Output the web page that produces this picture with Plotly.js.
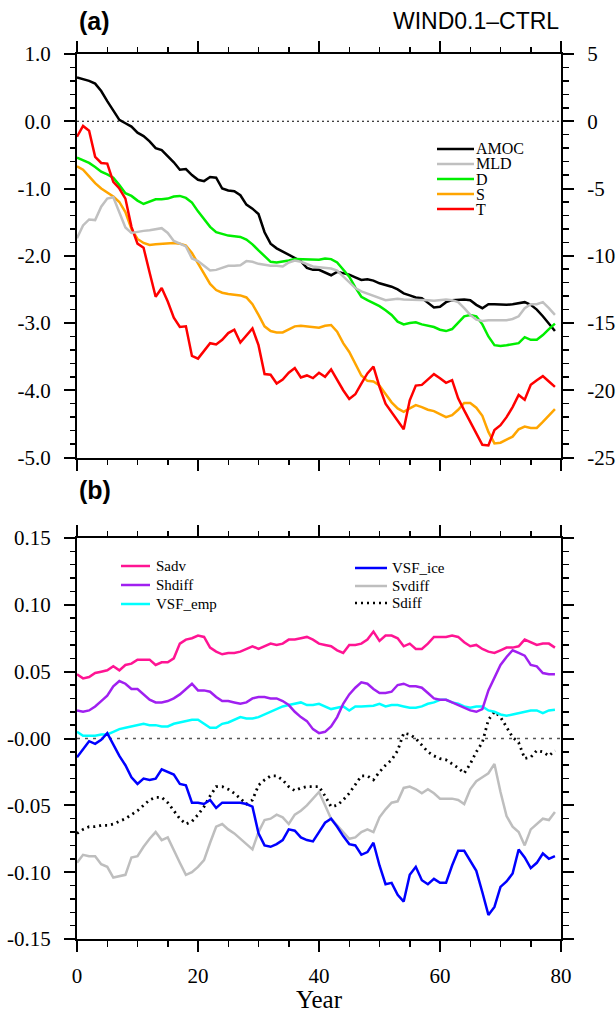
<!DOCTYPE html>
<html>
<head>
<meta charset="utf-8">
<script src="https://cdn.plot.ly/plotly-3.0.1.min.js"></script>
<style>html,body{margin:0;padding:0;background:#fff;}#chart{width:616px;height:1013px;}</style>
</head>
<body>
<div id="chart"></div>
<script>
// ---------- data ----------
const years = Array.from({length: 80}, (_, i) => i);

// panel (a), left axis
const AMOC = [0.65,0.63,0.60,0.56,0.45,0.30,0.15,0.02,-0.03,-0.08,-0.17,-0.22,-0.30,-0.40,-0.43,-0.52,-0.61,-0.72,-0.71,-0.80,
  -0.87,-0.89,-0.83,-0.84,-1.00,-1.03,-1.04,-1.10,-1.24,-1.30,-1.38,-1.65,-1.82,-1.89,-1.94,-1.99,-2.03,-2.08,-2.18,-2.21,
  -2.21,-2.25,-2.29,-2.24,-2.26,-2.28,-2.32,-2.36,-2.35,-2.37,-2.41,-2.43,-2.46,-2.50,-2.56,-2.59,-2.62,-2.63,-2.70,-2.77,
  -2.76,-2.69,-2.66,-2.65,-2.65,-2.66,-2.73,-2.78,-2.72,-2.72,-2.73,-2.73,-2.72,-2.70,-2.69,-2.73,-2.80,-2.90,-3.01,-3.12];
const D = [-0.54,-0.58,-0.62,-0.68,-0.75,-0.79,-0.84,-0.95,-1.07,-1.11,-1.18,-1.23,-1.20,-1.16,-1.16,-1.15,-1.12,-1.11,-1.14,-1.21,
  -1.34,-1.45,-1.57,-1.65,-1.68,-1.70,-1.71,-1.72,-1.76,-1.83,-1.92,-2.01,-2.09,-2.10,-2.09,-2.07,-2.05,-2.05,-2.05,-2.06,
  -2.06,-2.04,-2.05,-2.10,-2.20,-2.31,-2.47,-2.61,-2.66,-2.70,-2.75,-2.81,-2.88,-2.98,-3.02,-3.00,-2.99,-3.02,-3.04,-3.06,
  -3.10,-3.12,-3.09,-3.00,-2.90,-2.88,-2.90,-3.02,-3.20,-3.33,-3.34,-3.33,-3.31,-3.30,-3.21,-3.25,-3.25,-3.18,-3.09,-3.01];
const S = [-0.67,-0.72,-0.82,-0.92,-1.00,-1.06,-1.12,-1.20,-1.35,-1.60,-1.75,-1.81,-1.84,-1.83,-1.82,-1.81,-1.81,-1.82,-1.85,-1.96,
  -2.12,-2.26,-2.42,-2.51,-2.55,-2.57,-2.58,-2.59,-2.62,-2.72,-2.88,-3.05,-3.12,-3.14,-3.14,-3.09,-3.05,-3.04,-3.05,-3.06,
  -3.07,-3.04,-3.03,-3.13,-3.30,-3.43,-3.60,-3.78,-3.86,-3.87,-3.93,-4.05,-4.18,-4.27,-4.32,-4.27,-4.22,-4.25,-4.29,-4.31,
  -4.36,-4.40,-4.37,-4.29,-4.19,-4.19,-4.26,-4.38,-4.62,-4.79,-4.78,-4.74,-4.69,-4.58,-4.54,-4.56,-4.56,-4.47,-4.38,-4.28];
const T = [-0.23,-0.07,-0.14,-0.53,-0.62,-0.63,-0.90,-1.00,-1.15,-1.57,-1.82,-1.88,-2.25,-2.61,-2.48,-2.68,-2.92,-3.06,-3.05,-3.49,
  -3.53,-3.42,-3.30,-3.32,-3.25,-3.15,-3.10,-3.29,-3.18,-3.08,-3.33,-3.76,-3.77,-3.90,-3.84,-3.74,-3.67,-3.81,-3.78,-3.82,
  -3.74,-3.80,-3.69,-3.85,-4.00,-4.13,-4.06,-3.90,-3.75,-3.65,-3.95,-4.20,-4.33,-4.45,-4.58,-4.15,-3.93,-3.92,-3.84,-3.76,
  -3.82,-3.89,-3.85,-4.12,-4.30,-4.47,-4.65,-4.81,-4.82,-4.59,-4.52,-4.40,-4.25,-4.07,-4.14,-3.92,-3.85,-3.79,-3.87,-3.95];
// panel (a), right axis
const MLD = [-8.70,-7.75,-7.30,-7.35,-6.35,-5.75,-5.65,-6.75,-7.90,-8.30,-8.20,-8.15,-8.10,-8.00,-7.95,-8.30,-8.90,-9.10,-9.30,-10.20,
  -10.40,-10.75,-11.10,-11.05,-10.90,-10.75,-10.75,-10.70,-10.40,-10.45,-10.60,-10.70,-10.75,-10.75,-10.80,-10.50,-10.35,-10.45,-10.65,-10.80,
  -10.85,-10.90,-10.95,-11.10,-11.55,-12.00,-12.40,-12.65,-12.80,-12.95,-13.10,-13.30,-13.25,-13.20,-13.25,-13.25,-13.25,-13.25,-13.30,-13.35,
  -13.30,-13.25,-13.30,-13.45,-13.90,-14.40,-14.75,-14.85,-14.80,-14.80,-14.80,-14.80,-14.70,-14.50,-13.90,-13.60,-13.60,-13.45,-13.90,-14.40];

// panel (b)
const Sadv = [0.048,0.045,0.046,0.049,0.050,0.051,0.054,0.051,0.055,0.056,0.059,0.059,0.059,0.055,0.057,0.057,0.060,0.071,0.074,0.075,
  0.077,0.076,0.068,0.065,0.063,0.064,0.064,0.065,0.067,0.069,0.067,0.069,0.071,0.070,0.071,0.074,0.074,0.075,0.076,0.074,
  0.071,0.070,0.069,0.066,0.064,0.070,0.070,0.071,0.074,0.080,0.073,0.077,0.077,0.075,0.069,0.071,0.067,0.067,0.071,0.076,
  0.076,0.076,0.077,0.076,0.072,0.069,0.070,0.067,0.065,0.064,0.066,0.068,0.068,0.069,0.074,0.072,0.070,0.071,0.071,0.068];
const Shdiff = [0.021,0.020,0.021,0.024,0.028,0.032,0.039,0.043,0.041,0.037,0.037,0.033,0.029,0.027,0.027,0.028,0.030,0.033,0.037,0.041,
  0.036,0.036,0.035,0.031,0.028,0.028,0.027,0.026,0.027,0.030,0.031,0.031,0.030,0.030,0.028,0.025,0.020,0.016,0.013,0.007,
  0.004,0.005,0.009,0.016,0.026,0.033,0.038,0.042,0.041,0.037,0.034,0.034,0.035,0.040,0.041,0.039,0.039,0.038,0.034,0.030,
  0.029,0.029,0.027,0.025,0.023,0.021,0.020,0.022,0.036,0.046,0.055,0.061,0.066,0.064,0.062,0.055,0.054,0.049,0.048,0.048];
const VSF_emp = [0.005,0.002,0.002,0.002,0.003,0.003,0.005,0.007,0.008,0.009,0.010,0.011,0.010,0.010,0.009,0.009,0.011,0.012,0.013,0.014,
  0.014,0.011,0.008,0.008,0.011,0.012,0.014,0.016,0.015,0.015,0.016,0.018,0.020,0.022,0.024,0.025,0.026,0.027,0.025,0.025,
  0.026,0.024,0.022,0.023,0.024,0.021,0.024,0.024,0.024,0.0245,0.026,0.024,0.025,0.025,0.024,0.023,0.023,0.024,0.026,0.027,
  0.029,0.029,0.027,0.026,0.024,0.023,0.024,0.024,0.021,0.020,0.018,0.017,0.018,0.019,0.020,0.021,0.021,0.019,0.021,0.0215];
const VSF_ice = [-0.014,-0.008,-0.002,-0.004,-0.001,0.004,-0.005,-0.013,-0.020,-0.029,-0.034,-0.030,-0.031,-0.030,-0.023,-0.025,-0.027,-0.034,-0.035,-0.048,
  -0.048,-0.049,-0.046,-0.052,-0.048,-0.048,-0.048,-0.048,-0.049,-0.051,-0.071,-0.080,-0.081,-0.079,-0.076,-0.068,-0.069,-0.074,-0.076,-0.077,
  -0.070,-0.063,-0.060,-0.066,-0.073,-0.079,-0.080,-0.087,-0.085,-0.078,-0.095,-0.109,-0.108,-0.117,-0.122,-0.102,-0.096,-0.106,-0.109,-0.105,
  -0.108,-0.108,-0.095,-0.084,-0.084,-0.091,-0.099,-0.115,-0.132,-0.126,-0.111,-0.107,-0.101,-0.083,-0.089,-0.097,-0.093,-0.086,-0.090,-0.088];
const Svdiff = [-0.093,-0.087,-0.088,-0.088,-0.094,-0.096,-0.104,-0.103,-0.102,-0.089,-0.088,-0.081,-0.075,-0.070,-0.076,-0.074,-0.084,-0.093,-0.102,-0.100,
  -0.096,-0.091,-0.078,-0.066,-0.064,-0.068,-0.071,-0.075,-0.079,-0.083,-0.070,-0.061,-0.060,-0.057,-0.059,-0.064,-0.057,-0.054,-0.050,-0.045,
  -0.040,-0.050,-0.060,-0.065,-0.070,-0.075,-0.074,-0.070,-0.068,-0.070,-0.059,-0.053,-0.048,-0.047,-0.037,-0.036,-0.038,-0.041,-0.038,-0.041,
  -0.045,-0.045,-0.045,-0.046,-0.049,-0.038,-0.032,-0.029,-0.026,-0.019,-0.040,-0.058,-0.066,-0.070,-0.080,-0.068,-0.064,-0.060,-0.061,-0.055];
const Sdiff = [-0.071,-0.068,-0.066,-0.066,-0.065,-0.065,-0.064,-0.062,-0.060,-0.057,-0.054,-0.050,-0.046,-0.044,-0.044,-0.048,-0.054,-0.060,-0.064,-0.062,
  -0.057,-0.051,-0.043,-0.036,-0.036,-0.038,-0.041,-0.045,-0.049,-0.046,-0.035,-0.031,-0.028,-0.028,-0.031,-0.036,-0.039,-0.037,-0.036,-0.036,
  -0.036,-0.043,-0.051,-0.050,-0.046,-0.041,-0.034,-0.028,-0.028,-0.031,-0.025,-0.020,-0.016,-0.009,0.004,0.003,0.000,-0.005,-0.010,-0.013,
  -0.015,-0.016,-0.019,-0.022,-0.026,-0.019,-0.010,-0.003,0.014,0.020,0.016,0.008,0.001,-0.003,-0.015,-0.014,-0.009,-0.010,-0.013,-0.009];

// tick labels
const xTickVals = [0, 20, 40, 60, 80];
const xTickText = ['0', '20', '40', '60', '80'];
const yaTickVals = [1, 0, -1, -2, -3, -4, -5];
const yaTickText = ['1.0', '0.0', '-1.0', '-2.0', '-3.0', '-4.0', '-5.0'];
const ya2TickVals = [5, 0, -5, -10, -15, -20, -25];
const ya2TickText = ['5', '0', '-5', '-10', '-15', '-20', '-25'];
const ybTickVals = [0.15, 0.10, 0.05, 0, -0.05, -0.10, -0.15];
const ybTickText = ['0.15', '0.10', '0.05', '-0.00', '-0.05', '-0.10', '-0.15'];

// ---------- styling ----------
const serif = '"Liberation Serif", "Times New Roman", Times, serif';
const sans = 'Arial, Helvetica, sans-serif';

function tr(y, name, color, xa, ya, dash, width) {
  return {x: years, y: y, name: name, type: 'scatter', mode: 'lines', xaxis: xa, yaxis: ya,
    line: {color: color, width: width || 2.5, dash: dash || 'solid', shape: 'linear'}, showlegend: false, hoverinfo: 'skip'};
}

const traces = [
  tr(MLD, 'MLD', '#c0c0c0', 'x', 'y2'),
  tr(AMOC, 'AMOC', '#000000', 'x', 'y'),
  tr(D, 'D', '#00ee00', 'x', 'y'),
  tr(S, 'S', '#ffa500', 'x', 'y'),
  tr(T, 'T', '#ff0000', 'x', 'y'),
  tr(Svdiff, 'Svdiff', '#bebebe', 'x2', 'y3'),
  tr(Sdiff, 'Sdiff', '#000000', 'x2', 'y3', '2px,4px', 2.8),
  tr(VSF_emp, 'VSF_emp', '#00ffff', 'x2', 'y3'),
  tr(Shdiff, 'Shdiff', '#a020f0', 'x2', 'y3'),
  tr(Sadv, 'Sadv', '#ff1493', 'x2', 'y3'),
  tr(VSF_ice, 'VSF_ice', '#0000ff', 'x2', 'y3')
];

function axisBase(extra) {
  const base = {
    showline: true, linewidth: 2, linecolor: '#000', showgrid: false, zeroline: false,
    ticks: 'outside', ticklen: 11, tickwidth: 2, tickcolor: '#000',
    tickfont: {family: serif, size: 21, color: '#000'}
  };
  return Object.assign(base, extra);
}
function minorTicks(dt) {
  return {dtick: dt, tick0: 0, ticklen: 5.5, tickwidth: 1.5, ticks: 'outside', tickcolor: '#000', showgrid: false};
}

const domA = [1 - 457.5 / 1013, 1 - 54 / 1013];
const domB = [1 - 939 / 1013, 1 - 538 / 1013];

const layout = {
  width: 616, height: 1013,
  margin: {l: 77, r: 55, t: 0, b: 0},
  font: {family: serif, size: 21, color: '#000'},
  showlegend: false,
  xaxis: axisBase({
    domain: [0, 1], anchor: 'y', range: [0, 80], tickmode: 'array', tickvals: xTickVals, ticktext: xTickText,
    showticklabels: false, mirror: 'ticks', minor: minorTicks(5)
  }),
  yaxis: axisBase({
    domain: domA, anchor: 'x', range: [-5, 1], tickmode: 'array', tickvals: yaTickVals, ticktext: yaTickText,
    ticklabelstandoff: 9, minor: minorTicks(0.2)
  }),
  yaxis2: axisBase({
    overlaying: 'y', side: 'right', anchor: 'x', range: [-25, 5], tickmode: 'array', tickvals: ya2TickVals, ticktext: ya2TickText,
    ticklabelstandoff: 9, minor: minorTicks(1)
  }),
  xaxis2: axisBase({
    domain: [0, 1], anchor: 'y3', range: [0, 80], tickmode: 'array', tickvals: xTickVals, ticktext: xTickText,
    mirror: 'ticks', ticklabelstandoff: 6,
    title: {text: 'Year', font: {family: serif, size: 25, color: '#000'}, standoff: 4},
    minor: minorTicks(5)
  }),
  yaxis3: axisBase({
    domain: domB, anchor: 'x2', range: [-0.15, 0.15], tickmode: 'array', tickvals: ybTickVals, ticktext: ybTickText,
    mirror: 'ticks', ticklabelstandoff: 9, minor: minorTicks(0.01)
  }),
  shapes: [],
  annotations: []
};

// zero reference lines
layout.shapes.push({type: 'line', xref: 'x', yref: 'y', x0: 0, x1: 80, y0: 0, y1: 0,
  line: {color: '#000', width: 1, dash: '2px,3px'}, layer: 'below'});
layout.shapes.push({type: 'line', xref: 'x2', yref: 'y3', x0: 0, x1: 80, y0: 0, y1: 0,
  line: {color: '#555', width: 1.5, dash: '3px,5px'}, layer: 'below'});

// pixel -> paper helpers (for panel labels and legend placement)
const px = v => (v - 77) / 484;
const py = v => 1 - v / 1013;

layout.annotations.push({text: '<b>(a)</b>', xref: 'paper', yref: 'paper', x: px(77), y: py(21), xanchor: 'left', yanchor: 'middle',
  showarrow: false, font: {family: sans, size: 25, color: '#000'}});
layout.annotations.push({text: 'WIND0.1\u2013CTRL', xref: 'paper', yref: 'paper', x: px(561), y: py(21), xanchor: 'right', yanchor: 'middle',
  showarrow: false, font: {family: sans, size: 23, color: '#000'}});
layout.annotations.push({text: '<b>(b)</b>', xref: 'paper', yref: 'paper', x: px(77), y: py(490), xanchor: 'left', yanchor: 'middle',
  showarrow: false, font: {family: sans, size: 25, color: '#000'}});

// legends
function legendItem(name, color, dash, x0, x1, xt, yp, size, width) {
  layout.shapes.push({type: 'line', xref: 'paper', yref: 'paper', x0: px(x0), x1: px(x1), y0: py(yp), y1: py(yp),
    line: {color: color, width: width || 2.5, dash: dash || 'solid'}});
  layout.annotations.push({text: name, xref: 'paper', yref: 'paper', x: px(xt), y: py(yp), xanchor: 'left', yanchor: 'middle',
    showarrow: false, font: {family: serif, size: size, color: '#000'}});
}
legendItem('AMOC', '#000000', null, 437, 474, 474, 149, 16);
legendItem('MLD', '#c0c0c0', null, 437, 474, 474, 164, 16);
legendItem('D', '#00ee00', null, 437, 474, 474, 179, 16);
legendItem('S', '#ffa500', null, 437, 474, 474, 194, 16);
legendItem('T', '#ff0000', null, 437, 474, 474, 209, 16);

legendItem('Sadv', '#ff1493', null, 121, 150, 154, 566, 15);
legendItem('Shdiff', '#a020f0', null, 121, 150, 154, 585, 15);
legendItem('VSF_emp', '#00ffff', null, 121, 150, 154, 604, 15);
legendItem('VSF_ice', '#0000ff', null, 355, 387, 390, 568, 15);
legendItem('Svdiff', '#bebebe', null, 355, 387, 390, 586, 15);
legendItem('Sdiff', '#000000', '2px,4px', 355, 387, 390, 603, 15, 2.5);

Plotly.newPlot('chart', traces, layout, {staticPlot: true});
</script>
</body>
</html>
